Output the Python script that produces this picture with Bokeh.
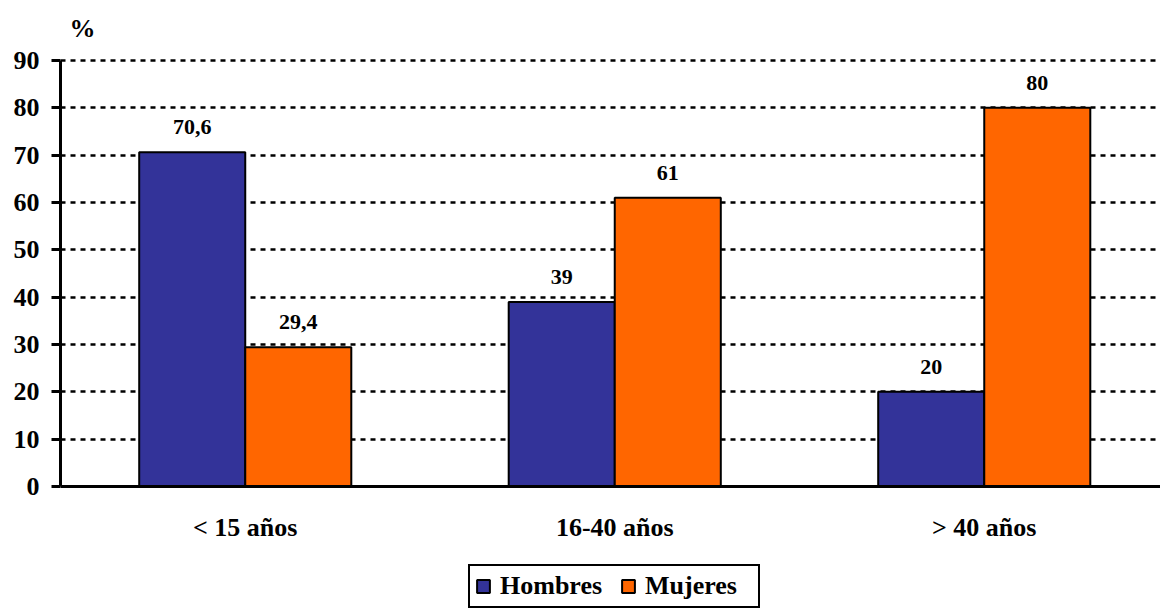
import numpy as np
from bokeh.plotting import figure
from bokeh.models import Range1d, Legend, LegendItem, ColumnDataSource, FixedTicker, Span, Label
from bokeh.core.properties import value
from bokeh.embed import file_html
from bokeh.resources import INLINE

categories = ["< 15 años", "16-40 años", "> 40 años"]
hombres = [70.6, 39, 20]
mujeres = [29.4, 61, 80]
y_ticks = [0, 10, 20, 30, 40, 50, 60, 70, 80, 90]
unit_label = "%"

BLUE = "#333399"
ORANGE = "#FF6600"
FONT = "Liberation Serif"

def fmt(v):
    return f"{v:g}".replace(".", ",")

centers = np.arange(len(categories)) + 0.5
bw = 0.287

# frame covers the whole canvas right of the y axis; value 0 sits 128 px above the bottom,
# value 90 sits 60 px below the top
px_per_unit = 426 / 90
y_start = -128 / px_per_unit
y_end = 90 + 60 / px_per_unit

p = figure(width=1160, height=614, output_backend="svg", toolbar_location=None,
           x_range=Range1d(0, 2.977), y_range=Range1d(y_start, y_end),
           x_axis_location=None,
           min_border_left=60, min_border_right=0, min_border_top=0, min_border_bottom=0)
p.outline_line_color = None
p.background_fill_color = "white"
p.border_fill_color = "white"

src_h = ColumnDataSource(dict(x=centers - bw / 2, top=hombres, lab=[fmt(v) for v in hombres]))
src_m = ColumnDataSource(dict(x=centers + bw / 2, top=mujeres, lab=[fmt(v) for v in mujeres]))

# grid
p.xgrid.grid_line_color = None
p.ygrid.ticker = FixedTicker(ticks=y_ticks)
p.ygrid.grid_line_color = "black"
p.ygrid.grid_line_width = 2.5
p.ygrid.grid_line_dash = "5 5"

r_h = p.vbar(x="x", top="top", width=bw, source=src_h, fill_color=BLUE, line_color="black", line_width=2)
r_m = p.vbar(x="x", top="top", width=bw, source=src_m, fill_color=ORANGE, line_color="black", line_width=2)

for src in (src_h, src_m):
    p.text(x="x", y="top", text="lab", source=src, text_align="center", text_baseline="middle",
           y_offset=-25, text_font=value(FONT), text_font_style="bold", text_font_size="22px",
           text_color="black")

# x axis line and category labels
p.add_layout(Span(location=0, dimension="width", line_color="black", line_width=3))
cat_src = ColumnDataSource(dict(x=centers, y=[0] * len(categories), lab=categories))
p.text(x="x", y="y", text="lab", source=cat_src, text_align="center", text_baseline="middle",
       y_offset=41, text_font=value(FONT), text_font_style="bold", text_font_size="26px",
       text_color="black")

# unit label above the y axis
p.add_layout(Label(x=22 / 369.5, y=90 + 32 / px_per_unit, text=unit_label, text_align="center",
                   text_baseline="middle", text_font=FONT, text_font_style="bold",
                   text_font_size="26px", text_color="black"))

# y axis
p.yaxis.bounds = (0, 90)
p.yaxis.ticker = FixedTicker(ticks=y_ticks)
p.yaxis.axis_line_width = 3
p.yaxis.axis_line_color = "black"
p.yaxis.major_tick_line_width = 3
p.yaxis.major_tick_out = 9
p.yaxis.major_tick_in = 0
p.yaxis.minor_tick_line_color = None
p.yaxis.major_label_standoff = 12
p.yaxis.major_label_text_font = FONT
p.yaxis.major_label_text_font_style = "bold"
p.yaxis.major_label_text_font_size = "26px"
p.yaxis.major_label_text_color = "black"

legend = Legend(items=[LegendItem(label="Hombres", renderers=[r_h]),
                       LegendItem(label="Mujeres", renderers=[r_m])],
                orientation="horizontal", location=(408, 6))
legend.label_text_font = FONT
legend.label_text_font_style = "bold"
legend.label_text_font_size = "26px"
legend.label_text_color = "black"
legend.glyph_width = 16
legend.glyph_height = 16
legend.label_standoff = 9
legend.label_width = 108
legend.spacing = 12
legend.padding = 5
legend.margin = 0
legend.border_line_color = "black"
legend.border_line_width = 2
legend.border_line_alpha = 1
legend.background_fill_color = "white"
legend.background_fill_alpha = 1
p.add_layout(legend)

open("out.html", "w").write(file_html(p, INLINE))
